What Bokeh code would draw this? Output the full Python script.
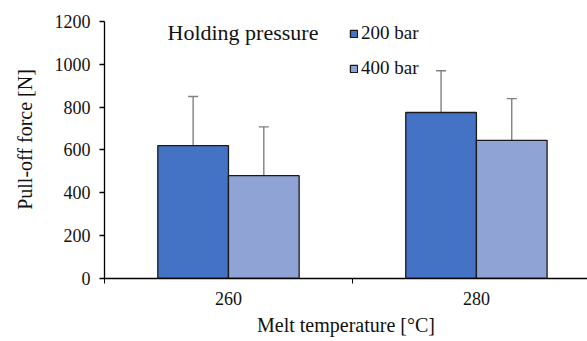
from bokeh.plotting import figure
from bokeh.models import (ColumnDataSource, Range1d, FixedTicker, Whisker, TeeHead,
                          Legend, LegendItem, Label)
from bokeh.embed import file_html
from bokeh.resources import INLINE

categories = ["260", "280"]
series = ["200 bar", "400 bar"]
values_200 = [620, 775]
values_400 = [480, 645]
err_200 = [230, 195]
err_400 = [228, 195]
colors = ["#4472C4", "#8FA3D4"]

FONT = "Liberation Serif"

p = figure(width=587, height=341, output_backend="svg", toolbar_location=None,
           x_range=Range1d(0, 1.948), y_range=Range1d(0, 1298),
           min_border_left=104, min_border_right=0, min_border_top=0,
           min_border_bottom=63)
p.outline_line_color = None
p.grid.grid_line_color = None

bar_w = 0.285
offsets = [-bar_w / 2, bar_w / 2]
renderers = []
for vals, errs, off, col in zip([values_200, values_400], [err_200, err_400],
                                offsets, colors):
    xs = [i + 0.5 + off for i in range(len(categories))]
    src = ColumnDataSource(dict(x=xs, top=vals,
                                upper=[v + e for v, e in zip(vals, errs)],
                                lower=[v - e for v, e in zip(vals, errs)]))
    r = p.vbar(x="x", top="top", width=bar_w, source=src, fill_color=col,
               line_color="#1a1a1a", line_width=1.3)
    renderers.append(r)
    w = Whisker(base="x", upper="upper", lower="lower", source=src,
                line_color="#808080", line_width=1.4,
                upper_head=TeeHead(size=10, line_color="#808080", line_width=1.4),
                lower_head=TeeHead(size=10, line_color="#808080", line_width=1.4))
    p.add_layout(w)

# axes
p.xaxis.ticker = FixedTicker(ticks=[0.5, 1.5], minor_ticks=[0, 1, 2])
p.xaxis.major_label_overrides = {0.5: categories[0], 1.5: categories[1]}
p.xaxis.major_tick_out = 0
p.xaxis.major_tick_in = 0
p.xaxis.minor_tick_out = 5
p.xaxis.minor_tick_in = 0
p.xaxis.minor_tick_line_color = "black"
p.xaxis.axis_label = "Melt temperature [°C]"

p.yaxis.ticker = FixedTicker(ticks=[0, 200, 400, 600, 800, 1000, 1200])
p.yaxis.bounds = (0, 1200)
p.yaxis.major_tick_out = 5
p.yaxis.major_tick_in = 0
p.yaxis.minor_tick_out = 0
p.yaxis.minor_tick_in = 0
p.yaxis.axis_label = "Pull-off force [N]"

for ax in [p.xaxis[0], p.yaxis[0]]:
    ax.axis_line_color = "black"
    ax.axis_line_width = 1.3
    ax.major_tick_line_color = "black"
    ax.major_tick_line_width = 1.3
    ax.major_label_text_font = FONT
    ax.major_label_text_font_size = "18px"
    ax.major_label_text_color = "#111111"
    ax.axis_label_text_font = FONT
    ax.axis_label_text_font_size = "20px"
    ax.axis_label_text_font_style = "normal"
    ax.axis_label_text_color = "#111111"
p.xaxis.major_label_standoff = 8
p.xaxis.axis_label_standoff = 6
p.yaxis.major_label_standoff = 9
p.yaxis.axis_label_standoff = 16

title = Label(x=167 - 104, y=278 - 32, x_units="screen", y_units="screen",
              text="Holding pressure", text_font=FONT, text_font_size="22px",
              text_color="#111111", text_baseline="alphabetic")
p.add_layout(title)

legend = Legend(items=[LegendItem(label=s, renderers=[r]) for s, r in zip(series, renderers)],
                location=(245, 199), orientation="vertical",
                glyph_width=9, glyph_height=9, label_standoff=3,
                label_text_font=FONT, label_text_font_size="19px",
                label_text_color="#111111", label_height=20, spacing=13,
                padding=0, margin=0, border_line_alpha=0,
                background_fill_alpha=0)
p.add_layout(legend, "center")

open("out.html", "w").write(file_html(p, INLINE))
